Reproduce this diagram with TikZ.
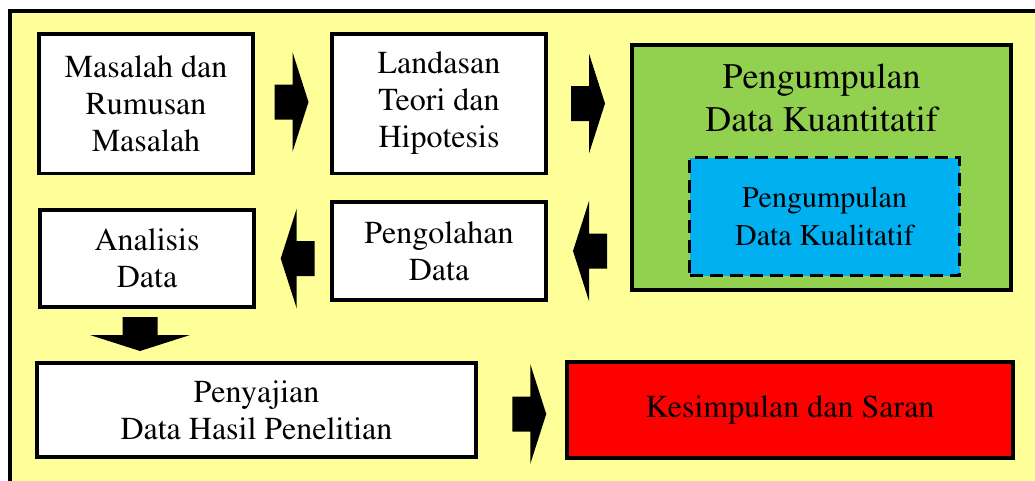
\documentclass[tikz,border=0pt]{standalone}
\usepackage[T1]{fontenc}
\usepackage{mathptmx}
\usetikzlibrary{calc}

\definecolor{kuning}{HTML}{FFFF99}
\definecolor{hijau}{HTML}{92D050}
\definecolor{biru}{HTML}{00B0F0}
\definecolor{merah}{HTML}{FF0000}

\tikzset{
  kotak/.style={draw, line width=3.5pt, fill=white, align=center, inner sep=0pt,
    font=\fontsize{32}{37}\selectfont},
  panah/.pic={\fill (-18,-17.5) -- (0,-17.5) -- (0,-50) -- (16,0) -- (0,50)
    -- (0,17.5) -- (-18,17.5) -- cycle;}
}

\begin{document}
\begin{tikzpicture}[x=1pt, y=-1pt]
    % ukuran gambar
    \useasboundingbox (0,0) rectangle (1035,480);
    \clip (0,0) rectangle (1035,480);

    % latar kuning
    \fill[kuning] (10,11) rectangle (1045,490);
    \draw[line width=4pt] (1045,11) -- (10,11) -- (10,490);

    % baris atas
    \node[kotak, minimum width=214, minimum height=139.5] (masalah) at (146,103.5)
      {Masalah dan\\Rumusan\\Masalah};
    \node[kotak, minimum width=214, minimum height=139.5] (landasan) at (439,103.5)
      {Landasan\\Teori dan\\Hipotesis};
    \node[kotak, fill=hijau, minimum width=379, minimum height=245] (kuantitatif) at (821.5,167.5) {};
    \node[align=center, font=\fontsize{36}{43}\selectfont] (judulkuan) at (821.5,98)
      {Pengumpulan\\Data Kuantitatif};
    \node[kotak, fill=biru, line width=3.5pt, dash pattern=on 13pt off 7pt,
      minimum width=270, minimum height=118, font=\fontsize{30}{38}\selectfont]
      (kualitatif) at (824.5,216.5) {Pengumpulan\\Data Kualitatif};

    % baris tengah
    \node[kotak, minimum width=214, minimum height=98] (pengolahan) at (439,251)
      {Pengolahan\\Data};
    \node[kotak, minimum width=214, minimum height=97] (analisis) at (147,258.5)
      {Analisis\\Data};

    % baris bawah
    \node[kotak, minimum width=439, minimum height=94] (penyajian) at (256.5,410)
      {Penyajian\\Data Hasil Penelitian};
    \node[kotak, fill=merah, minimum width=446, minimum height=96] (kesimpulan) at (790,410)
      {Kesimpulan dan Saran};

    % panah blok
    \pic at ($(masalah.east)!.5!(landasan.west)+(0,-1.5)$) {panah};
    \pic at ($(landasan.east)!.5!(kuantitatif.west |- landasan.east)$) {panah};
    \pic[rotate=180] at ($(pengolahan.east)!.5!(kuantitatif.west |- pengolahan.east)$) {panah};
    \pic[rotate=180] at ($(analisis.east)!.55!(analisis.east -| pengolahan.west)$) {panah};
    \pic[rotate=-90] at ($(analisis.south)!.5!(analisis.south |- penyajian.north)+(-7,0)$) {panah};
    \pic at ($(penyajian.east)!.6!(kesimpulan.west)+(0,4)$) {panah};

  \end{tikzpicture}
\end{document}
